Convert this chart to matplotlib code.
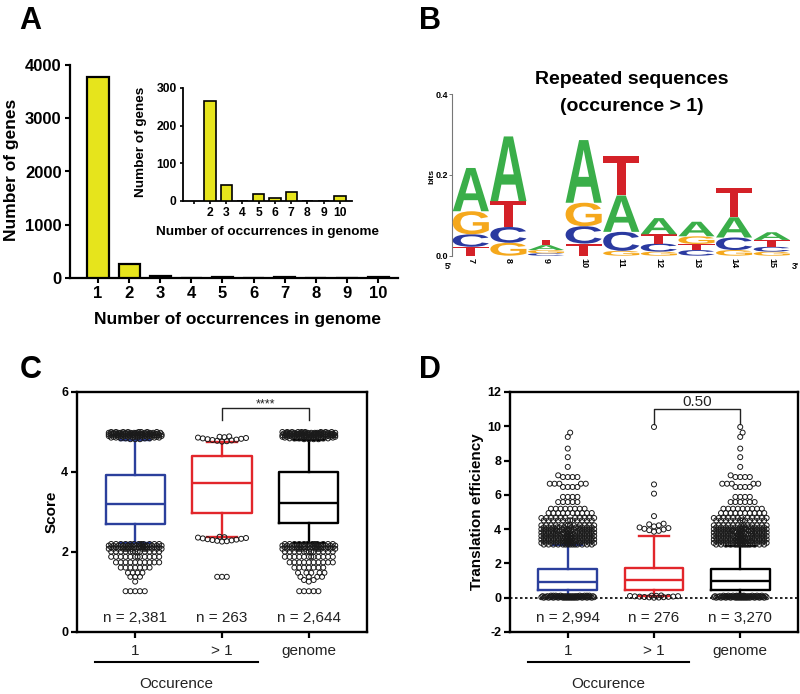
import numpy as np
import matplotlib
matplotlib.use("Agg")
import matplotlib.pyplot as plt
from matplotlib.textpath import TextPath
from matplotlib.font_manager import FontProperties
from matplotlib.patches import PathPatch
from matplotlib.transforms import Affine2D, blended_transform_factory

plt.rcParams['font.family'] = ['Liberation Sans', 'DejaVu Sans']
plt.rcParams['axes.unicode_minus'] = False

# ---- panel A data ----
occ_bins = [1, 2, 3, 4, 5, 6, 7, 8, 9, 10]
genes_main = [3780, 265, 43, 0, 17, 7, 22, 0, 0, 12]
inset_bins = [2, 3, 4, 5, 6, 7, 8, 9, 10]
genes_inset = [265, 43, 0, 17, 7, 22, 0, 0, 12]

# ---- panel B data (bits per letter) ----
logo_pos = [7, 8, 9, 10, 11, 12, 13, 14, 15]
bits_A = [0.107, 0.160, 0.012, 0.155, 0.090, 0.040, 0.036, 0.050, 0.019]
bits_C = [0.031, 0.039, 0.006, 0.043, 0.047, 0.020, 0.014, 0.031, 0.012]
bits_G = [0.057, 0.032, 0.008, 0.058, 0.012, 0.010, 0.019, 0.014, 0.010]
bits_T = [0.022, 0.064, 0.014, 0.030, 0.097, 0.023, 0.015, 0.072, 0.017]

# ---- panel C data ----
groups = ['1', '> 1', 'genome']
score_q1 = [2.71, 2.97, 2.73]
score_med = [3.21, 3.73, 3.23]
score_q3 = [3.92, 4.40, 3.99]
score_wlo = [2.22, 2.37, 2.22]
score_whi = [4.80, 4.75, 4.80]
score_n = ['n = 2,381', 'n = 263', 'n = 2,644']
# outliers as (values, counts)
score_out_1 = ([1.02, 1.26, 1.38, 1.48, 1.61, 1.74, 1.88, 2.01, 2.08, 2.12, 2.16, 2.20,
                4.82, 4.84, 4.86, 4.88, 4.90, 4.92, 4.94, 4.96, 4.98, 5.00],
               [5, 1, 3, 4, 7, 10, 12, 13, 14, 14, 14, 12,
                3, 4, 6, 8, 10, 12, 14, 14, 12, 8])
score_out_2 = ([1.38, 2.26, 2.27, 2.28, 2.29, 2.30, 2.31, 2.32, 2.33, 2.34, 2.35, 2.36, 2.37, 2.38,
                4.76, 4.77, 4.78, 4.79, 4.80, 4.81, 4.82, 4.83, 4.84, 4.85, 4.86, 4.87, 4.88, 4.89],
               [3, 1, 1, 1, 1, 1, 1, 1, 1, 1, 1, 1, 1, 1,
                1, 1, 1, 1, 1, 1, 1, 1, 1, 1, 1, 1, 1, 1])
score_out_3 = ([1.02, 1.26, 1.30, 1.38, 1.48, 1.61, 1.74, 1.88, 2.01, 2.08, 2.12, 2.16, 2.20,
                4.82, 4.84, 4.86, 4.88, 4.90, 4.92, 4.94, 4.96, 4.98, 5.00],
               [5, 1, 2, 4, 5, 7, 10, 12, 13, 14, 14, 14, 12,
                4, 5, 7, 9, 11, 13, 15, 15, 13, 9])

# ---- panel D data ----
te_q1 = [0.43, 0.47, 0.47]
te_med = [0.91, 1.01, 0.95]
te_q3 = [1.65, 1.75, 1.65]
te_wlo = [0.05, 0.10, 0.05]
te_whi = [3.05, 3.58, 3.00]
te_n = ['n = 2,994', 'n = 276', 'n = 3,270']
te_out_1 = ([0.00, 0.03, 0.06, 0.09, 0.12,
             3.10, 3.20, 3.30, 3.40, 3.50, 3.60, 3.70, 3.80, 3.90, 4.00, 4.10, 4.22, 4.51, 4.65,
             4.94, 5.19, 5.58, 5.88, 6.46, 6.65, 7.04, 7.14, 7.63, 8.20, 8.70, 9.38, 9.63],
            [14, 14, 14, 12, 8,
             14, 14, 14, 14, 13, 13, 13, 12, 12, 12, 12, 13, 12, 11,
             10, 8, 5, 4, 4, 5, 4, 1, 1, 1, 1, 1, 1])
te_out_2 = ([0.00, 0.01, 0.02, 0.03, 0.04, 0.05, 0.06, 0.07, 0.08, 0.09, 0.10, 0.11, 0.12, 0.13,
             3.85, 3.90, 3.94, 3.98, 4.02, 4.06, 4.10, 4.16, 4.22, 4.28, 4.32, 4.76, 6.07, 6.61, 9.96],
            [1] * 29)
te_out_3 = ([0.00, 0.03, 0.06, 0.09, 0.12,
             3.10, 3.20, 3.30, 3.40, 3.50, 3.60, 3.70, 3.80, 3.90, 4.00, 4.10, 4.22, 4.51, 4.65,
             4.94, 5.19, 5.58, 5.88, 6.46, 6.65, 7.04, 7.14, 7.63, 8.20, 8.70, 9.38, 9.63, 9.96],
            [14, 14, 14, 14, 10,
             14, 14, 14, 14, 14, 13, 13, 13, 13, 13, 13, 13, 12, 12,
             10, 9, 6, 4, 4, 5, 4, 1, 1, 1, 1, 1, 1, 1])

YELLOW = '#e6e41c'
BLUE = '#2b3f9c'
RED = '#e2262b'
BOX_COLORS = [BLUE, RED, 'black']
LOGO_COLORS = {'A': '#3aae49', 'C': '#2b3aa0', 'G': '#f5a81c', 'T': '#d42128'}

W, H = 800, 694
fig = plt.figure(figsize=(W / 100, H / 100), dpi=100)


def add_ax(l, t, r, b):
    return fig.add_axes([l / W, 1 - b / H, (r - l) / W, (b - t) / H])


def ftext(x, y, s, **kw):
    fig.text(x / W, 1 - y / H, s, **kw)


def bold_ticks(ax):
    for lbl in ax.get_xticklabels() + ax.get_yticklabels():
        lbl.set_fontweight('bold')


# ================= A =================
ax = add_ax(70, 65, 398, 278)
ax.bar(occ_bins, genes_main, width=0.68, color=YELLOW, edgecolor='black', linewidth=1.6, zorder=3)
ax.set_xlim(0.1, 10.64)
ax.set_ylim(0, 4000)
ax.set_xticks(occ_bins)
ax.set_yticks([0, 1000, 2000, 3000, 4000])
for s in ['top', 'right']:
    ax.spines[s].set_visible(False)
for s in ['left', 'bottom']:
    ax.spines[s].set_linewidth(1.6)
ax.tick_params(length=3.6, width=1.5, labelsize=12, pad=2.5)
bold_ticks(ax)
ftext(237, 324.5, 'Number of occurrences in genome', ha='center', va='baseline',
      fontsize=12.5, fontweight='bold')
ftext(12, 170, 'Number of genes', ha='center', va='center', rotation=90,
      fontsize=12.5, fontweight='bold')

ins = add_ax(183, 88, 352, 200.7)
ins.bar(inset_bins, genes_inset, width=0.68, color=YELLOW, edgecolor='black', linewidth=1.2, zorder=3)
ins.set_xlim(0.34, 10.74)
ins.set_ylim(0, 300)
ins.set_xticks(occ_bins)
ins.set_xticklabels([''] + [str(b) for b in inset_bins])
ins.set_yticks([0, 100, 200, 300])
for s in ['top', 'right']:
    ins.spines[s].set_visible(False)
for s in ['left', 'bottom']:
    ins.spines[s].set_linewidth(1.3)
ins.tick_params(length=2.5, width=1.2, labelsize=8.7, pad=2)
bold_ticks(ins)
ftext(267, 235.5, 'Number of occurrences in genome', ha='center', va='baseline',
      fontsize=9.7, fontweight='bold')
ftext(141, 142, 'Number of genes', ha='center', va='center', rotation=90,
      fontsize=9.7, fontweight='bold')

# ================= B =================
axb = add_ax(452, 94, 790.5, 255.7)
axb.set_xlim(6.5, 15.5)
axb.set_ylim(0, 0.4)
letter_prop = FontProperties(family='Liberation Sans', weight='bold')
bits = {'A': bits_A, 'C': bits_C, 'G': bits_G, 'T': bits_T}
for i, p in enumerate(logo_pos):
    heights = sorted([(bits[L][i], L) for L in 'ACGT'])
    y0 = 0.0
    for h, L in heights:
        tp = TextPath((0, 0), L, size=1, prop=letter_prop)
        ext = tp.get_extents()
        w = 0.96
        tr = (Affine2D().translate(-ext.x0, -ext.y0)
              .scale(w / ext.width, h / ext.height)
              .translate(p - w / 2, y0))
        axb.add_patch(PathPatch(tr.transform_path(tp), facecolor=LOGO_COLORS[L],
                                edgecolor='none', zorder=3))
        y0 += h
for s in ['top', 'right', 'bottom']:
    axb.spines[s].set_visible(False)
axb.spines['left'].set_color('#777777')
axb.spines['left'].set_linewidth(0.8)
axb.set_yticks([0, 0.2, 0.4])
axb.set_yticklabels(['0.0', '0.2', '0.4'])
axb.set_xticks(logo_pos)
axb.set_xticklabels([str(p) for p in logo_pos], rotation=-90)
axb.tick_params(axis='y', length=2, width=0.7, color='#777777', labelsize=6.5, pad=1)
axb.tick_params(axis='x', length=0, labelsize=6.5, pad=2)
bold_ticks(axb)
ftext(432, 176, 'bits', ha='center', va='center', rotation=90, fontsize=6, fontweight='bold')
ftext(448, 266, "5'", ha='center', va='center', fontsize=6.5, fontweight='bold')
ftext(795, 266, "3'", ha='center', va='center', fontsize=6.5, fontweight='bold')
ftext(632, 84, 'Repeated sequences', ha='center', va='baseline', fontsize=14, fontweight='bold')
ftext(632, 111, '(occurence > 1)', ha='center', va='baseline', fontsize=14, fontweight='bold')


# ================= C & D =================
def swarm(vals, center, ppx, ppy, diam=4.6, cap=27.0, step=1.2):
    vals = np.sort(np.asarray(vals, float))
    offsets = [0.0]
    k = 1
    while k * step <= cap:
        offsets += [k * step, -k * step]
        k += 1
    px_list, py_list, xs = [], [], []
    for v in vals:
        y = v * ppy
        px = np.array(px_list)
        py = np.array(py_list)
        if px.size:
            near = np.abs(py - y) < diam
            px, py = px[near], py[near]
        best, bestd = 0.0, -1.0
        for o in offsets:
            d = np.min(np.hypot(px - o, py - y)) if px.size else np.inf
            if d >= diam:
                best = o
                break
            if d > bestd:
                bestd, best = d, o
        px_list.append(best)
        py_list.append(y)
        xs.append(center + best / ppx)
    return np.array(xs), vals


def box_panel(rect, q1, med, q3, wlo, whi, outs, ylim, yticks, nlab, n_y, ylabel):
    l, t, r, b = rect
    ax = add_ax(l, t, r, b)
    xlim = (0.33, 3.67)
    ax.set_xlim(*xlim)
    ax.set_ylim(*ylim)
    ppx = (r - l) / (xlim[1] - xlim[0])
    ppy = (b - t) / (ylim[1] - ylim[0])
    stats = [dict(med=med[i], q1=q1[i], q3=q3[i], whislo=wlo[i], whishi=whi[i], fliers=[])
             for i in range(3)]
    res = ax.bxp(stats, positions=[1, 2, 3], widths=0.68, capwidths=0.34, showfliers=False,
                 manage_ticks=False)
    for i, c in enumerate(BOX_COLORS):
        res['boxes'][i].set(color=c, linewidth=1.7)
        res['medians'][i].set(color=c, linewidth=1.7)
        for j in (2 * i, 2 * i + 1):
            res['whiskers'][j].set(color=c, linewidth=1.7)
            res['caps'][j].set(color=c, linewidth=1.7)
    for i, (v, cnt) in enumerate(outs):
        allv = np.repeat(v, cnt)
        xs, ys = swarm(allv, i + 1, ppx, ppy)
        ax.scatter(xs, ys, s=13, facecolors='none', edgecolors='#1a1a1a', linewidths=0.7,
                   zorder=4, clip_on=False)
    for i, s in enumerate(nlab):
        ax.text(i + 1, n_y, s, ha='center', va='baseline', fontsize=11, color='#222222')
    for s in ax.spines.values():
        s.set_linewidth(1.7)
    ax.set_yticks(yticks)
    ax.set_xticks([1, 2, 3])
    ax.set_xticklabels(groups)
    ax.tick_params(axis='y', length=4.3, width=1.6, labelsize=9, pad=2)
    ax.tick_params(axis='x', length=4.3, width=1.6, labelsize=11, pad=4, labelcolor='#222222')
    for lbl in ax.get_yticklabels():
        lbl.set_fontweight('bold')
    ax.set_ylabel(ylabel, fontsize=11, fontweight='bold', labelpad=2)
    bt = blended_transform_factory(ax.transData, ax.transAxes)
    ax.plot([0.54, 2.41], [-0.125, -0.125], color='black', linewidth=1.5, transform=bt,
            clip_on=False)
    ax.text(1.47, -0.217, 'Occurence', transform=bt, ha='center', va='center', fontsize=11,
            color='#222222')
    return ax


axc = box_panel((77, 392, 367, 632), score_q1, score_med, score_q3, score_wlo, score_whi,
                [score_out_1, score_out_2, score_out_3], (0, 6), [0, 2, 4, 6],
                score_n, 0.25, 'Score')
axc.plot([2, 2, 3, 3], [5.29, 5.61, 5.61, 5.29], color='#222222', linewidth=1.0)
axc.text(2.5, 5.62, '****', ha='center', va='baseline', fontsize=9, color='#222222')

axd = box_panel((510, 392, 798, 632), te_q1, te_med, te_q3, te_wlo, te_whi,
                [te_out_1, te_out_2, te_out_3], (-2, 12), [-2, 0, 2, 4, 6, 8, 10, 12],
                te_n, -1.39, 'Translation efficiency')
axd.axhline(0, color='black', linewidth=1.2, linestyle=(0, (1.5, 1.5)), zorder=1)
axd.plot([2, 2, 3, 3], [10.15, 11.03, 11.03, 10.15], color='#222222', linewidth=1.0)
axd.text(2.5, 11.17, '0.50', ha='center', va='baseline', fontsize=11, color='#222222')

for x, y, s in [(30, 21, 'A'), (430, 21, 'B'), (31, 370, 'C'), (430, 370, 'D')]:
    ftext(x, y, s, ha='center', va='center', fontsize=22, fontweight='bold')

fig.savefig('out.png', dpi=100)
